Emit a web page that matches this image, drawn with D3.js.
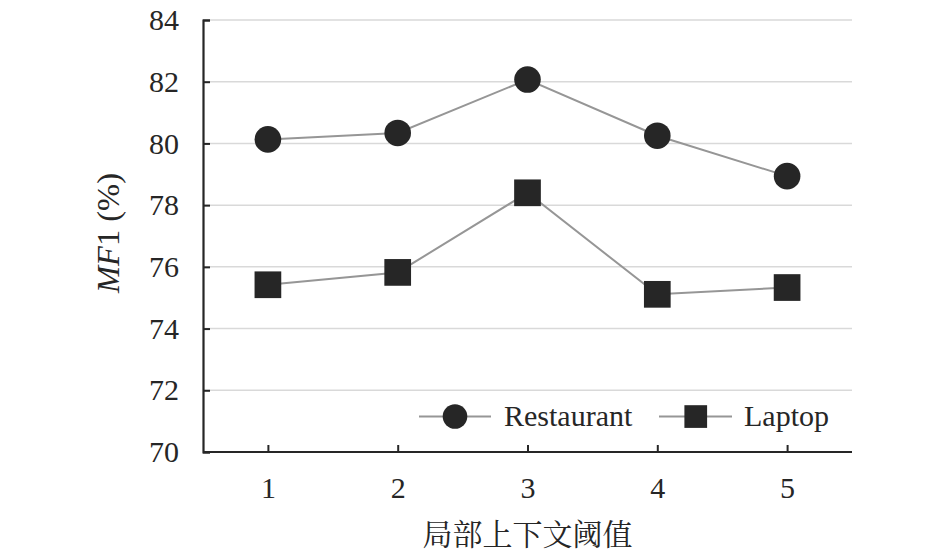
<!DOCTYPE html>
<html>
<head>
<meta charset="utf-8">
<script src="https://cdn.jsdelivr.net/npm/d3@7"></script>
<style>
  html, body { margin: 0; padding: 0; background: #fff; }
  svg { display: block; }
</style>
</head>
<body>
<svg id="chart" width="945" height="554"></svg>
<script>
const categories = ["1", "2", "3", "4", "5"];
const restaurant = [80.13, 80.34, 82.07, 80.25, 78.94];
const laptop = [75.42, 75.82, 78.40, 75.11, 75.33];
const yTicks = [70, 72, 74, 76, 78, 80, 82, 84];
const seriesNames = ["Restaurant", "Laptop"];
const xTitle = "局部上下文阈值";

const svg = d3.select("#chart");
const margin = { left: 203, right: 93, top: 20, bottom: 102 };
const W = 945, H = 554;
const serif = "'Liberation Serif', 'Times New Roman', serif";
const cjk = "'Noto Serif CJK SC', 'Noto Sans CJK SC', serif";

const x = d3.scalePoint().domain(categories).range([margin.left, W - margin.right]).padding(0.5);
const y = d3.scaleLinear().domain([70, 84]).range([H - margin.bottom, margin.top]);

// gridlines
svg.append("g").selectAll("line").data(yTicks.filter(d => d > 70)).join("line")
  .attr("x1", margin.left).attr("x2", W - margin.right)
  .attr("y1", d => y(d)).attr("y2", d => y(d))
  .attr("stroke", "#d9d9d9").attr("stroke-width", 1.5);

// y axis
const yAxis = svg.append("g").attr("transform", `translate(${margin.left},0)`)
  .call(d3.axisLeft(y).tickValues(yTicks).tickSize(-7).tickPadding(24).tickFormat(d3.format("d")));
yAxis.select(".domain").attr("stroke", "#262626").attr("stroke-width", 2.2);
yAxis.selectAll(".tick line").attr("stroke", "#262626").attr("stroke-width", 2);
yAxis.selectAll(".tick text").attr("font-family", serif).attr("font-size", 30).attr("fill", "#262626");

// x axis
const xAxis = svg.append("g").attr("transform", `translate(0,${H - margin.bottom})`)
  .call(d3.axisBottom(x).tickSize(-7).tickPadding(25).tickSizeOuter(0));
xAxis.select(".domain").attr("stroke", "#262626").attr("stroke-width", 2.2)
  .attr("d", `M${margin.left},0H${W - margin.right}`);
xAxis.selectAll(".tick line").attr("stroke", "#262626").attr("stroke-width", 2);
xAxis.selectAll(".tick text").attr("font-family", serif).attr("font-size", 30).attr("fill", "#262626");

// lines
const line = d3.line().x((d, i) => x(categories[i])).y(d => y(d));
[restaurant, laptop].forEach(s => {
  svg.append("path").datum(s).attr("d", line)
    .attr("fill", "none").attr("stroke", "#969696").attr("stroke-width", 2);
});

// markers
svg.append("g").selectAll("circle").data(restaurant).join("circle")
  .attr("cx", (d, i) => x(categories[i])).attr("cy", d => y(d)).attr("r", 13.3)
  .attr("fill", "#262626");
const sq = 26.7;
svg.append("g").selectAll("rect").data(laptop).join("rect")
  .attr("x", (d, i) => x(categories[i]) - sq / 2).attr("y", d => y(d) - sq / 2)
  .attr("width", sq).attr("height", sq).attr("fill", "#262626");

// legend
const ly = 416.5;
const leg = svg.append("g");
// Restaurant
leg.append("line").attr("x1", 419).attr("x2", 491).attr("y1", ly).attr("y2", ly)
  .attr("stroke", "#969696").attr("stroke-width", 2);
leg.append("circle").attr("cx", 455).attr("cy", ly).attr("r", 12.3).attr("fill", "#262626");
leg.append("text").attr("x", 504).attr("y", ly + 9).text(seriesNames[0])
  .attr("font-family", serif).attr("font-size", 30).attr("fill", "#262626");
// Laptop
leg.append("line").attr("x1", 659).attr("x2", 732).attr("y1", ly).attr("y2", ly)
  .attr("stroke", "#969696").attr("stroke-width", 2);
leg.append("rect").attr("x", 695.7 - 11.3).attr("y", ly - 11.3).attr("width", 22.7).attr("height", 22.7)
  .attr("fill", "#262626");
leg.append("text").attr("x", 744).attr("y", ly + 9).text(seriesNames[1])
  .attr("font-family", serif).attr("font-size", 30).attr("fill", "#262626");

// x title
svg.append("text").attr("x", (margin.left + W - margin.right) / 2).attr("y", 545)
  .attr("text-anchor", "middle").attr("font-family", cjk).attr("font-size", 30)
  .attr("fill", "#262626").text(xTitle);

// y title
const yt = svg.append("text")
  .attr("transform", `translate(119,233) rotate(-90)`)
  .attr("text-anchor", "middle").attr("font-family", serif).attr("font-size", 32.5)
  .attr("fill", "#262626");
yt.append("tspan").attr("font-style", "italic").text("MF");
yt.append("tspan").text("1 (%)");
</script>
</body>
</html>
